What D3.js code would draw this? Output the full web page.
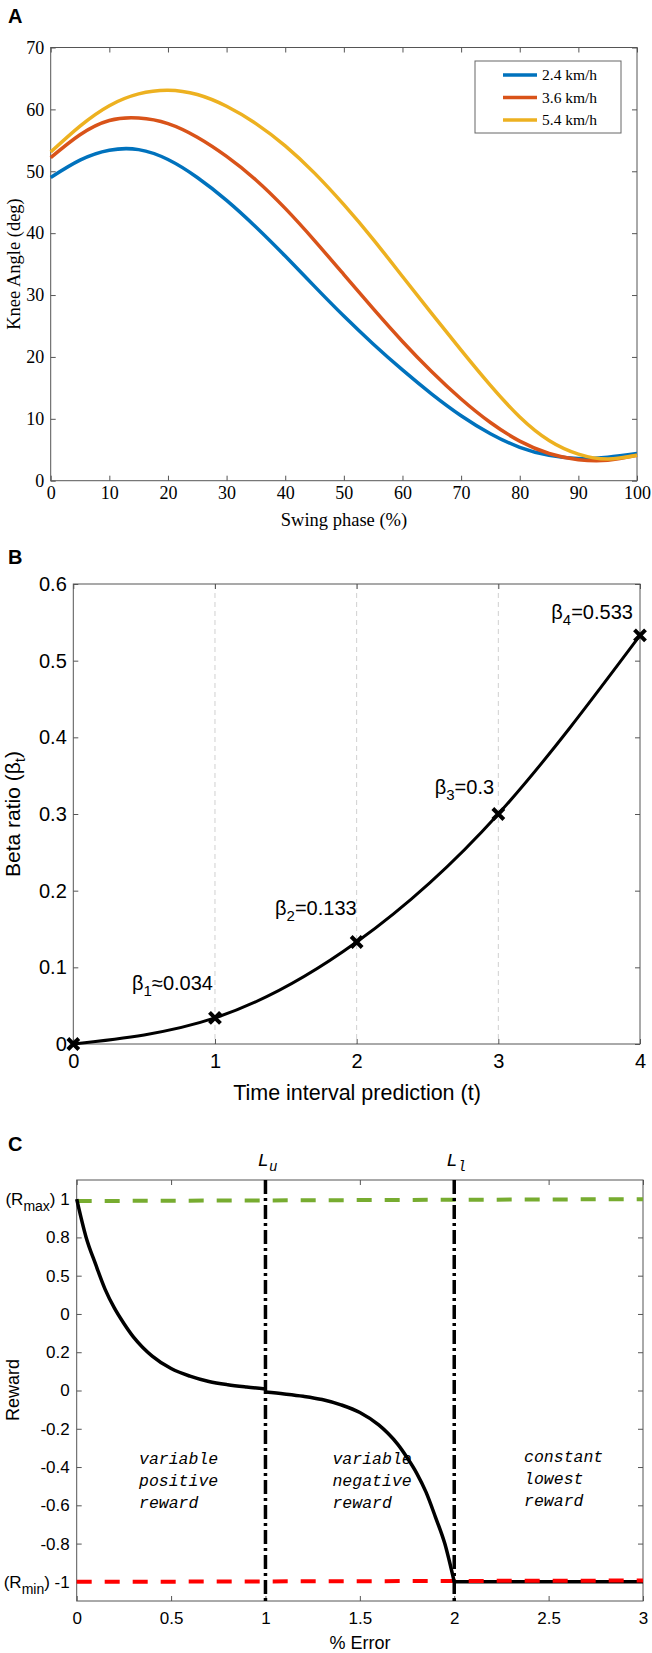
<!DOCTYPE html>
<html><head><meta charset="utf-8">
<script src="https://cdn.jsdelivr.net/npm/d3@7"></script>
<style>body{margin:0;background:#fff}</style>
</head><body>
<svg id="c" width="652" height="1653" xmlns="http://www.w3.org/2000/svg"></svg>
<script>
// ---------- Panel A data ----------
const swingPhase = [0,5,10,15,20,25,30,35,40,45,50,55,60,65,70,75,80,85,90,95,100];
const knee24 = [49.0,51.8,53.4,53.5,51.9,49.0,45.3,41.0,36.3,31.4,26.6,22.1,17.9,14.0,10.5,7.6,5.4,4.1,3.6,3.8,4.4];
const knee36 = [52.2,55.9,58.2,58.6,57.7,55.5,52.4,48.6,44.0,38.8,33.3,27.8,22.5,17.6,13.2,9.4,6.4,4.4,3.4,3.3,4.1];
const knee54 = [53.1,57.3,60.6,62.5,63.1,62.4,60.5,57.7,54.1,49.7,44.6,39.0,33.0,27.0,21.1,15.4,10.3,6.5,4.3,3.5,4.1];
const speedLabels = ["2.4 km/h","3.6 km/h","5.4 km/h"];
const kneeTicksY = [0,10,20,30,40,50,60,70];
const kneeTicksX = [0,10,20,30,40,50,60,70,80,90,100];

// ---------- Panel B data ----------
const timeInterval = [0,1,2,3,4];
const betaRatio = [0,0.034,0.133,0.3,0.533];
const betaSubs = ["1","2","3","4"];
const betaTexts = ["\u22480.034","=0.133","=0.3","=0.533"];
const betaLabelX = [0.986,2.0,2.97,3.95];
const betaLabelY = [0.0704,0.168,0.3266,0.555];
const betaTicksY = [0,0.1,0.2,0.3,0.4,0.5,0.6];
const betaTicksX = [0,1,2,3,4];

// ---------- Panel C data ----------
const errPos = [0,0.05,0.1,0.15,0.2,0.25,0.3,0.35,0.4,0.5,0.6,0.7,0.8,0.9,1.0];
const rewardPos = [1.0,0.80,0.66,0.53,0.43,0.35,0.28,0.225,0.18,0.115,0.075,0.047,0.03,0.018,0.008];
const errNeg = [1.0,1.1,1.2,1.3,1.4,1.5,1.6,1.65,1.7,1.75,1.8,1.85,1.9,1.95,2.0];
const rewardNeg = [-0.008,-0.018,-0.03,-0.047,-0.075,-0.115,-0.18,-0.225,-0.28,-0.35,-0.43,-0.53,-0.66,-0.80,-1.0];
const errConst = [2,3];
const rewardConst = [-1,-1];
const rmaxX = [0,3], rmaxY = [0.99,1.0];
const rminX = [0,3], rminY = [-1.0,-0.993];
const limitX = [1,2];
const limitSubs = ["u","l"];
const rewardTicksY = [1,0.8,0.6,0.4,0.2,0,-0.2,-0.4,-0.6,-0.8,-1];
const rewardTickLabels = ["1","0.8","0.5","0","0.2","0","-0.2","-0.4","-0.6","-0.8","-1"];
const errTicksX = [0,0.5,1,1.5,2,2.5,3];
const regionCols = [0.33,1.355,2.37];
const regionRowY = [-0.382,-0.382,-0.372];
const regionLines = [["variable","positive","reward"],["variable","negative","reward"],["constant","lowest","reward"]];

// ---------- helpers ----------
const svg = d3.select("#c");
const SERIF = "'Liberation Serif','Times New Roman',serif";
const SANS = "'Liberation Sans',Arial,Helvetica,sans-serif";
const MONO = "'Liberation Mono','Courier New',monospace";

function boxAxes(g, xs, ys, o){
  const [x0,x1] = xs.range(), [y1,y0] = ys.range();
  const left = g.append("g").attr("transform",`translate(${x0},0)`)
    .call(d3.axisLeft(ys).tickValues(o.yTicks).tickSize(-5).tickPadding(o.yPad).tickFormat(o.yFmt));
  const right = g.append("g").attr("transform",`translate(${x1},0)`)
    .call(d3.axisRight(ys).tickValues(o.yTicks).tickSize(-5).tickFormat(""));
  const bottom = g.append("g").attr("transform",`translate(0,${y1})`)
    .call(d3.axisBottom(xs).tickValues(o.xTicks).tickSize(-5).tickPadding(o.xPad).tickFormat(o.xFmt));
  const top = g.append("g").attr("transform",`translate(0,${y0})`)
    .call(d3.axisTop(xs).tickValues(o.xTicks).tickSize(-5).tickFormat(""));
  [left,right,bottom,top].forEach(a=>{
    a.select(".domain").remove();
    a.selectAll("line").attr("stroke",o.color);
    a.attr("font-family",o.font).attr("font-size",o.size);
    a.selectAll("text").attr("fill","#000");
  });
  g.append("rect").attr("x",x0).attr("y",y0).attr("width",x1-x0).attr("height",y1-y0)
    .attr("fill","none").attr("stroke",o.color).attr("stroke-width",1);
  return {left,bottom};
}

// ================= Panel A =================
{
  const g = svg.append("g");
  const x = d3.scaleLinear().domain([0,100]).range([50.7,637]);
  const y = d3.scaleLinear().domain([0,70]).range([480.7,47.5]);
  g.append("text").attr("x",8).attr("y",23).attr("font-family",SANS).attr("font-weight","bold")
    .attr("font-size",20).text("A");
  boxAxes(g,x,y,{yTicks:kneeTicksY,xTicks:kneeTicksX,yPad:6.5,xPad:6,yFmt:d3.format("d"),xFmt:d3.format("d"),
    color:"#555",font:SERIF,size:18});
  const colors = ["#0072BD","#D95319","#EDB120"];
  const series = [knee24,knee36,knee54];
  const line = d3.line().x((d,i)=>x(swingPhase[i])).y(d=>y(d)).curve(d3.curveNatural);
  series.forEach((s,k)=>{
    g.append("path").attr("d",line(s)).attr("fill","none").attr("stroke",colors[k]).attr("stroke-width",3.5)
      .attr("stroke-linejoin","round");
  });
  // legend
  g.append("rect").attr("x",475).attr("y",61).attr("width",146).attr("height",72)
    .attr("fill","#fff").attr("stroke","#666").attr("stroke-width",1);
  speedLabels.forEach((t,k)=>{
    const yy = 75 + k*22.5;
    g.append("line").attr("x1",503).attr("x2",537).attr("y1",yy).attr("y2",yy)
      .attr("stroke",colors[k]).attr("stroke-width",3.5);
    g.append("text").attr("x",542).attr("y",yy).attr("dy","0.35em").attr("font-family",SERIF)
      .attr("font-size",15.5).text(t);
  });
  g.append("text").attr("transform","translate(14,264) rotate(-90)").attr("text-anchor","middle")
    .attr("dy","0.35em").attr("font-family",SERIF).attr("font-size",18.5).text("Knee Angle (deg)");
  g.append("text").attr("x",344).attr("y",526).attr("text-anchor","middle").attr("font-family",SERIF)
    .attr("font-size",18.5).text("Swing phase (%)");
}

// ================= Panel B =================
{
  const g = svg.append("g");
  const x = d3.scaleLinear().domain([0,4]).range([73.3,640]);
  const y = d3.scaleLinear().domain([0,0.6]).range([1044,584]);
  g.append("text").attr("x",8).attr("y",564).attr("font-family",SANS).attr("font-weight","bold")
    .attr("font-size",20).text("B");
  g.selectAll("line.grid").data([1,2,3]).enter().append("line").attr("class","grid")
    .attr("x1",d=>x(d)).attr("x2",d=>x(d)).attr("y1",y(0.6)).attr("y2",y(0))
    .attr("stroke","#d0d0d0").attr("stroke-width",1).attr("stroke-dasharray","5,4");
  boxAxes(g,x,y,{yTicks:betaTicksY,xTicks:betaTicksX,yPad:6.5,xPad:10,yFmt:d3.format(""),xFmt:d3.format("d"),
    color:"#555",font:SANS,size:20});
  const line = d3.line().x((d,i)=>x(timeInterval[i])).y(d=>y(d)).curve(d3.curveNatural);
  g.append("path").attr("d",line(betaRatio)).attr("fill","none").attr("stroke","#000").attr("stroke-width",3);
  betaRatio.forEach((v,i)=>{
    const cx = x(timeInterval[i]), cy = y(v), s = 5.5;
    g.append("path").attr("d",`M${cx-s},${cy-s}L${cx+s},${cy+s}M${cx-s},${cy+s}L${cx+s},${cy-s}`)
      .attr("stroke","#000").attr("stroke-width",4).attr("fill","none");
  });
  betaSubs.forEach((sb,i)=>{
    const t = g.append("text").attr("x",x(betaLabelX[i])).attr("y",y(betaLabelY[i])).attr("text-anchor","end")
      .attr("font-family",SANS).attr("font-size",20);
    t.append("tspan").text("\u03B2");
    t.append("tspan").attr("dy",6).attr("font-size",15).text(sb);
    t.append("tspan").attr("dy",-6).text(betaTexts[i]);
  });
  const yl = g.append("text").attr("transform","translate(12.5,814) rotate(-90)").attr("text-anchor","middle")
    .attr("dy","0.35em").attr("font-family",SANS).attr("font-size",21);
  yl.append("tspan").text("Beta ratio (\u03B2");
  yl.append("tspan").attr("dy",5).attr("font-size",15).text("t");
  yl.append("tspan").attr("dy",-5).text(")");
  g.append("text").attr("x",357).attr("y",1100).attr("text-anchor","middle").attr("font-family",SANS)
    .attr("font-size",21.5).text("Time interval prediction (t)");
}

// ================= Panel C =================
{
  const g = svg.append("g");
  const x = d3.scaleLinear().domain([0,3]).range([76.7,643]);
  const y = d3.scaleLinear().domain([-1.1,1.1]).range([1601,1180]);
  g.append("text").attr("x",8).attr("y",1151).attr("font-family",SANS).attr("font-weight","bold")
    .attr("font-size",20).text("C");
  const ax = boxAxes(g,x,y,{yTicks:rewardTicksY,xTicks:errTicksX,yPad:7,xPad:11,
    yFmt:(d,i)=>rewardTickLabels[i],xFmt:d3.format(""),color:"#555",font:SANS,size:17});
  const n = rewardTicksY.length;
  ax.left.selectAll(".tick text").each(function(d,i){
    if(i===0||i===n-1){
      const t = d3.select(this); t.text("");
      t.append("tspan").text("(R");
      t.append("tspan").attr("dy",6).attr("font-size",14).text(i===0?"max":"min");
      t.append("tspan").attr("dy",-6).text(") "+rewardTickLabels[i]);
    }
  });
  const lineXY = (xs,ys)=>d3.line().x((d,i)=>x(xs[i])).y(d=>y(d))(ys);
  g.append("path").attr("d",lineXY(rmaxX,rmaxY)).attr("stroke","#77AC30").attr("stroke-width",4)
    .attr("stroke-dasharray","15,13").attr("fill","none");
  g.append("path").attr("d",lineXY(errConst,rewardConst)).attr("stroke","#000").attr("stroke-width",3.5).attr("fill","none");
  g.append("path").attr("d",lineXY(rminX,rminY)).attr("stroke","#FF0000").attr("stroke-width",4)
    .attr("stroke-dasharray","15,13").attr("fill","none");
  const curve = (xs,ys)=>d3.line().x((d,i)=>x(xs[i])).y(d=>y(d)).curve(d3.curveMonotoneX)(ys);
  g.append("path").attr("d",curve(errPos,rewardPos)).attr("stroke","#000").attr("stroke-width",3.5).attr("fill","none");
  g.append("path").attr("d",curve(errNeg,rewardNeg)).attr("stroke","#000").attr("stroke-width",3.5).attr("fill","none");
  limitX.forEach((lx,k)=>{
    g.append("line").attr("x1",x(lx)).attr("x2",x(lx)).attr("y1",1180).attr("y2",1601)
      .attr("stroke","#000").attr("stroke-width",3.5).attr("stroke-dasharray","14,4,3,4");
    const t = g.append("text").attr("x",x(lx)+2).attr("y",1166).attr("text-anchor","middle")
      .attr("font-family",MONO).attr("font-style","italic").attr("font-size",19);
    t.append("tspan").text("L");
    t.append("tspan").attr("dy",5).attr("font-size",14).text(limitSubs[k]);
  });
  regionLines.forEach((lines,k)=>{
    lines.forEach((s,j)=>{
      g.append("text").attr("x",x(regionCols[k])).attr("y",y(regionRowY[k])+j*22)
        .attr("font-family",MONO).attr("font-style","italic").attr("font-size",16.5).text(s);
    });
  });
  g.append("text").attr("transform","translate(12.5,1390) rotate(-90)").attr("text-anchor","middle")
    .attr("dy","0.35em").attr("font-family",SANS).attr("font-size",18).text("Reward");
  g.append("text").attr("x",360).attr("y",1649).attr("text-anchor","middle").attr("font-family",SANS)
    .attr("font-size",18).text("% Error");
}
</script>
</body></html>
